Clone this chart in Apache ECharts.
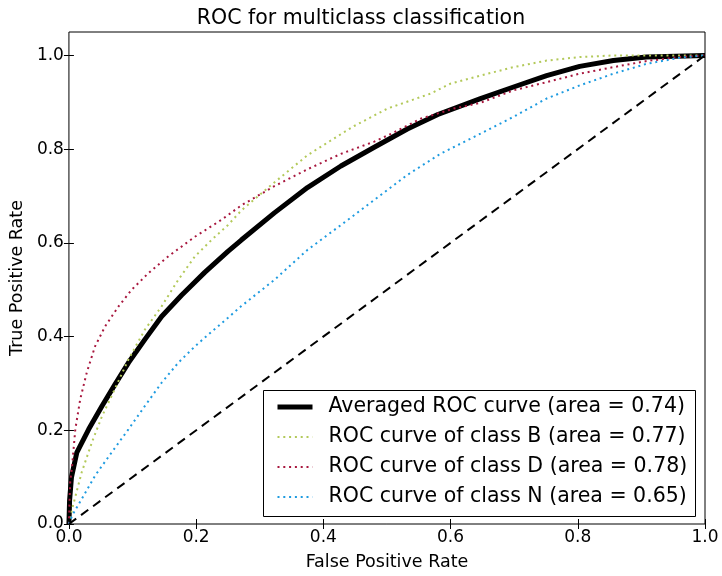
<!DOCTYPE html>
<html>
<head>
<meta charset="utf-8">
<script src="https://cdn.jsdelivr.net/npm/echarts@6/dist/echarts.min.js"></script>
<style>
  html, body { margin: 0; padding: 0; background: #fff; }
  #roc { width: 722px; height: 576px; }
</style>
</head>
<body>
<div id="roc"></div>
<script>
const chart = echarts.init(document.getElementById('roc'))

var legendNames = [
    'Averaged ROC curve (area = 0.74)',
    'ROC curve of class B (area = 0.77)',
    'ROC curve of class D (area = 0.78)',
    'ROC curve of class N (area = 0.65)'
]
var tickValues = [0, 0.2, 0.4, 0.6, 0.8, 1.0]

// [false positive rate, true positive rate]
var avgCurve = [
    [0, 0], [0.001, 0.05], [0.004, 0.10], [0.0125, 0.153], [0.031, 0.202],
    [0.052, 0.252], [0.0725, 0.298], [0.0935, 0.344], [0.1195, 0.394],
    [0.1457, 0.443], [0.177, 0.488], [0.2135, 0.537], [0.25, 0.582],
    [0.271, 0.606], [0.323, 0.664], [0.375, 0.718], [0.4276, 0.764],
    [0.480, 0.804], [0.532, 0.843], [0.580, 0.874], [0.647, 0.908],
    [0.699, 0.9326], [0.751, 0.957], [0.803, 0.9766], [0.856, 0.989],
    [0.908, 0.9965], [1, 1]
]
var classB = [
    [0, 0], [0.005, 0.032], [0.020, 0.110], [0.036, 0.174], [0.052, 0.230],
    [0.067, 0.273], [0.0935, 0.351], [0.1195, 0.415], [0.1457, 0.4645],
    [0.1718, 0.521], [0.198, 0.571], [0.224, 0.606], [0.25, 0.638],
    [0.271, 0.669], [0.323, 0.729], [0.375, 0.787], [0.4276, 0.832],
    [0.448, 0.849], [0.5007, 0.8866], [0.5685, 0.9185], [0.600, 0.940],
    [0.647, 0.957], [0.699, 0.975], [0.751, 0.989], [0.803, 0.9965],
    [0.856, 1.0], [1, 1]
]
var classD = [
    [0, 0], [0.001, 0.05], [0.002, 0.09], [0.005, 0.124], [0.010, 0.202],
    [0.0177, 0.266], [0.028, 0.323], [0.041, 0.379], [0.057, 0.422],
    [0.078, 0.4645], [0.0987, 0.500], [0.125, 0.5355], [0.156, 0.571],
    [0.198, 0.613], [0.2396, 0.649], [0.271, 0.680], [0.323, 0.721],
    [0.375, 0.757], [0.4276, 0.790], [0.480, 0.816], [0.510, 0.835],
    [0.553, 0.865], [0.605, 0.8866], [0.647, 0.899], [0.699, 0.9255],
    [0.751, 0.943], [0.803, 0.961], [0.856, 0.975], [0.908, 0.988],
    [0.960, 0.9965], [1, 1]
]
var classN = [
    [0, 0], [0.005, 0.018], [0.020, 0.053], [0.041, 0.103], [0.067, 0.1525],
    [0.0935, 0.202], [0.1195, 0.252], [0.1457, 0.3015], [0.1718, 0.344],
    [0.198, 0.379], [0.224, 0.410], [0.25, 0.440], [0.271, 0.465],
    [0.323, 0.521], [0.375, 0.585], [0.4276, 0.638], [0.480, 0.6915],
    [0.532, 0.745], [0.584, 0.790], [0.647, 0.833], [0.699, 0.869],
    [0.751, 0.908], [0.803, 0.936], [0.856, 0.961], [0.908, 0.982],
    [0.960, 0.995], [1, 1]
]
var chanceLine = [[0, 0], [1, 1]]

var font = 'DejaVu Sans'

function curve(name, data, color, width, dash) {
    return {
        name: name,
        type: 'line',
        data: data,
        showSymbol: false,
        symbol: 'none',
        animation: false,
        lineStyle: { color: color, width: width, type: dash },
        itemStyle: { color: color }
    }
}

var tickStyle = { inside: true, length: 5, lineStyle: { color: '#000' }, customValues: tickValues }

chart.setOption({
    backgroundColor: '#fff',
    animation: false,
    title: {
        text: 'ROC for multiclass classification',
        left: 'center',
        top: 3,
        textStyle: { fontFamily: font, fontSize: 20.5, fontWeight: 'normal', color: '#000' }
    },
    grid: {
        left: 67, right: 17, top: 32, bottom: 51,
        show: true, borderColor: '#000', borderWidth: 1
    },
    // legend frame (white box with black edge behind the legend entries)
    graphic: [{
        type: 'rect',
        left: 263, top: 390, z: 3,
        shape: { width: 432, height: 126 },
        style: { fill: '#fff', stroke: '#000', lineWidth: 1 }
    }],
    legend: {
        data: [
            { name: legendNames[0], lineStyle: { width: 5, color: '#000' } },
            { name: legendNames[1] },
            { name: legendNames[2] },
            { name: legendNames[3] }
        ],
        orient: 'vertical',
        left: 263,
        top: 390,
        z: 4,
        padding: [6, 2, 8, 12],
        itemWidth: 35,
        itemHeight: 22,
        itemGap: 8,
        itemStyle: { opacity: 0 },
        textStyle: {
            fontFamily: font, fontSize: 20.5, lineHeight: 22, color: '#000',
            padding: [0, 0, 0, 11]
        }
    },
    xAxis: [
        {
            type: 'value', min: 0, max: 1, interval: 0.2,
            name: 'False Positive Rate', nameLocation: 'middle', nameGap: 29,
            nameTextStyle: { fontFamily: font, fontSize: 17.5, color: '#000' },
            axisLine: { show: false },
            axisTick: tickStyle,
            splitLine: { show: false },
            axisLabel: {
                customValues: tickValues, margin: 5,
                fontFamily: font, fontSize: 17, color: '#000',
                formatter: function (v) { return v.toFixed(1) }
            }
        },
        {
            type: 'value', min: 0, max: 1, interval: 0.2, position: 'top',
            axisLine: { show: false }, axisTick: tickStyle,
            splitLine: { show: false }, axisLabel: { show: false }
        }
    ],
    yAxis: [
        {
            type: 'value', min: 0, max: 1.05,
            name: 'True Positive Rate', nameLocation: 'middle', nameGap: 40,
            nameTextStyle: { fontFamily: font, fontSize: 17.5, color: '#000' },
            axisLine: { show: false },
            axisTick: tickStyle,
            splitLine: { show: false },
            axisLabel: {
                customValues: tickValues, margin: 5,
                fontFamily: font, fontSize: 17, color: '#000',
                formatter: function (v) { return v.toFixed(1) }
            }
        },
        {
            type: 'value', min: 0, max: 1.05, position: 'right',
            axisLine: { show: false }, axisTick: tickStyle,
            splitLine: { show: false }, axisLabel: { show: false }
        }
    ],
    series: [
        curve(legendNames[0], avgCurve, '#000000', 5, 'solid'),
        curve(legendNames[1], classB, '#b3c95a', 2, [2, 3.8]),
        curve(legendNames[2], classD, '#a8173e', 2, [2, 3.8]),
        curve(legendNames[3], classN, '#1e9be0', 2, [2, 3.8]),
        {
            name: 'chance',
            type: 'line',
            data: chanceLine,
            showSymbol: false,
            symbol: 'none',
            animation: false,
            lineStyle: { color: '#000', width: 2, type: [9, 6] }
        }
    ]
})
</script>
</body>
</html>
